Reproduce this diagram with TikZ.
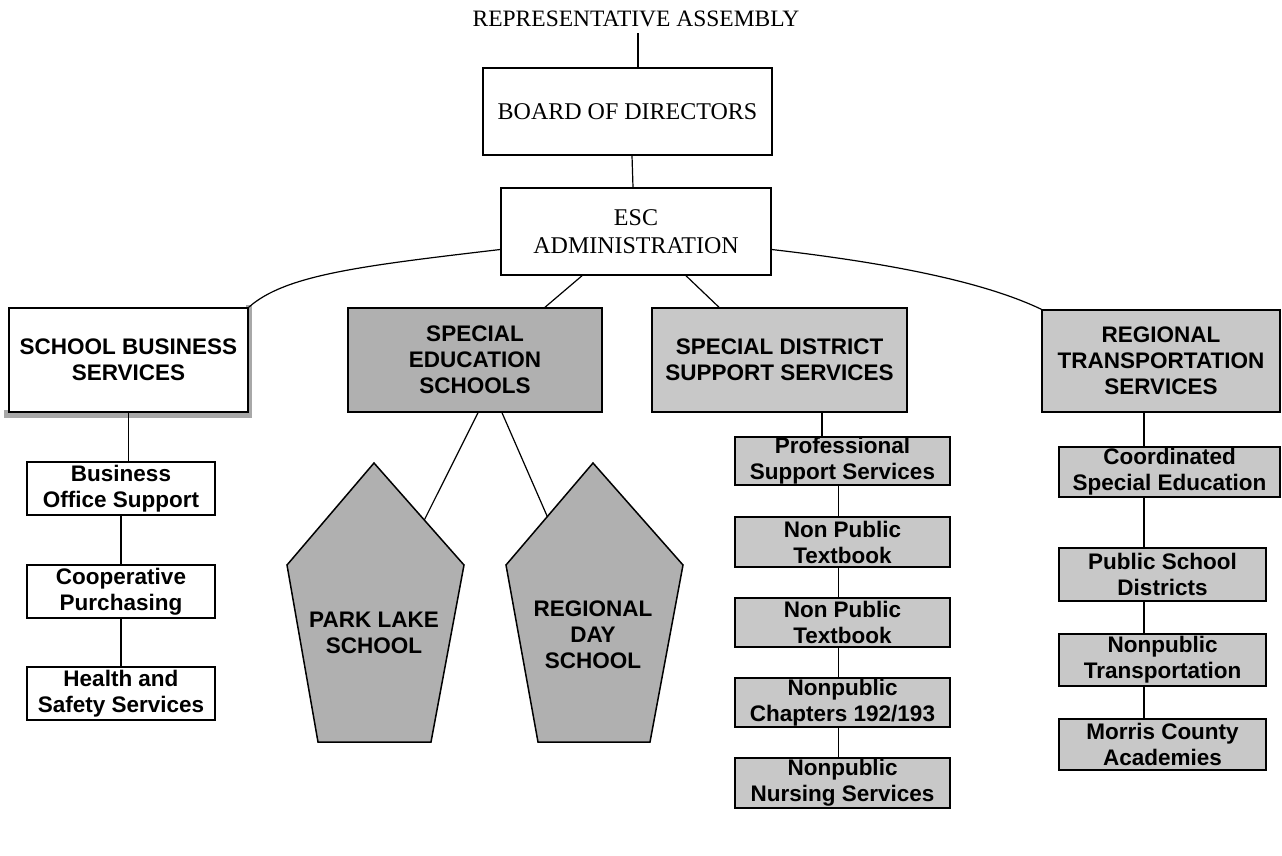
\documentclass[tikz,border=0pt]{standalone}
\usepackage{fontspec}
\setmainfont{Liberation Serif}
\newfontfamily\hsans{Liberation Sans}
\usetikzlibrary{calc}
\definecolor{boxgray}{HTML}{C8C8C8}
\definecolor{schoolgray}{HTML}{B0B0B0}
\definecolor{shadowgray}{HTML}{A8A8A8}
\tikzset{
  serifbox/.style={draw, line width=1.5pt, fill=white, inner sep=0pt, align=center,
    font=\fontsize{24}{28}\selectfont},
  sansbox/.style={draw, line width=1.5pt, inner sep=0pt, align=center,
    font=\hsans\bfseries\fontsize{22.5}{26}\selectfont},
  whitebox/.style={sansbox, fill=white},
  lightbox/.style={sansbox, fill=boxgray},
  darkbox/.style={sansbox, fill=schoolgray},
  schoolshape/.style={draw, line width=1.5pt, fill=schoolgray, line join=miter},
  schooltext/.style={inner sep=0pt, align=center, font=\hsans\bfseries\fontsize{22.5}{26}\selectfont},
  conn/.style={line width=1.2pt},
}
\begin{document}
\begin{tikzpicture}[x=1pt,y=-1pt]
\useasboundingbox (0,0) rectangle (1282,855);

% top
\node[inner sep=0pt, font=\fontsize{23.5}{28}\selectfont] (ra) at (636,19) {REPRESENTATIVE ASSEMBLY};
\node[serifbox, minimum width=289pt, minimum height=87pt] (board) at (627.5,111.5) {BOARD OF DIRECTORS};
\node[serifbox, minimum width=270pt, minimum height=87pt] (esc) at (636,231.5) {ESC\\ADMINISTRATION};

% level 2
\fill[shadowgray] (4,410) rectangle (252,418);
\fill[shadowgray] (246,305) rectangle (252,418);
\node[whitebox, minimum width=239pt, minimum height=104pt] (sbs) at (128.5,360) {SCHOOL BUSINESS\\SERVICES};
\node[darkbox, minimum width=254pt, minimum height=104pt] (ses) at (475,360) {SPECIAL\\EDUCATION\\SCHOOLS};
\node[lightbox, minimum width=255pt, minimum height=104pt] (sds) at (779.5,360) {SPECIAL DISTRICT\\SUPPORT SERVICES};
\node[lightbox, minimum width=238pt, minimum height=102pt] (rts) at (1161,361) {REGIONAL\\TRANSPORTATION\\SERVICES};

% left column
\node[whitebox, minimum width=188pt, minimum height=53pt] (bos) at (121,488.5) {Business\\Office Support};
\node[whitebox, minimum width=188pt, minimum height=53pt] (cp) at (121,591.5) {Cooperative\\Purchasing};
\node[whitebox, minimum width=188pt, minimum height=53pt] (hss) at (121,693.5) {Health and\\Safety Services};

% schools
\draw[schoolshape] (374,463) -- (464,565) -- (431,742) -- (318,742) -- (287,565) -- cycle;
\draw[schoolshape] (593,463) -- (683,565) -- (650,742) -- (538,742) -- (506,565) -- cycle;
\node[schooltext] (plk) at (374,633) {PARK LAKE\\SCHOOL};
\node[schooltext] (rds) at (593,635) {REGIONAL\\DAY\\SCHOOL};
\coordinate (plkhook) at (424.3,520);
\coordinate (rdshook) at (547.5,517);

% middle column
\node[lightbox, minimum width=215pt, minimum height=48pt] (pss) at (842.5,461) {Professional\\Support Services};
\node[lightbox, minimum width=215pt, minimum height=50pt] (npt1) at (842.5,542) {Non Public\\Textbook};
\node[lightbox, minimum width=215pt, minimum height=49pt] (npt2) at (842.5,622.5) {Non Public\\Textbook};
\node[lightbox, minimum width=215pt, minimum height=49pt] (npc) at (842.5,702.5) {Nonpublic\\Chapters 192/193};
\node[lightbox, minimum width=215pt, minimum height=50pt] (nns) at (842.5,783) {Nonpublic\\Nursing Services};

% right column
\node[lightbox, minimum width=221pt, minimum height=50pt] (cse) at (1169.5,472) {Coordinated\\Special Education};
\node[lightbox, minimum width=207pt, minimum height=53pt] (psd) at (1162.5,574.5) {Public School\\Districts};
\node[lightbox, minimum width=207pt, minimum height=52pt] (nt) at (1162.5,660) {Nonpublic\\Transportation};
\node[lightbox, minimum width=207pt, minimum height=51pt] (mca) at (1162.5,744.5) {Morris County\\Academies};

% connectors top
\draw[conn] ($(ra.south)+(2,6)$) -- ($(board.north)+(10.5,0)$);
\draw[conn] ($(board.south)+(4.5,0)$) -- ($(esc.north)+(-3,0)$);
\draw[conn] ($(esc.west)+(0,18)$) .. controls (360,266) and (285,275) .. (sbs.north east);
\draw[conn] ($(esc.east)+(0,18)$) .. controls (880,262) and (980,280) .. (rts.north west);
\draw[conn] ($(esc.south)+(-54,0)$) -- ($(ses.north)+(70,0)$);
\draw[conn] ($(esc.south)+(50,0)$) -- ($(sds.north)+(-60.5,0)$);

% schools connectors
\draw[conn] ($(ses.south)+(3,0)$) -- (plkhook);
\draw[conn] ($(ses.south)+(27,0)$) -- (rdshook);

% left column connectors
\draw[conn] (sbs.south) -- (sbs.south |- bos.north);
\draw[conn] (bos.south) -- (cp.north);
\draw[conn] (cp.south) -- (hss.north);

% middle column connectors
\draw[conn] (sds.south -| 822,0) -- (pss.north -| 822,0);
\draw[conn] ($(pss.south)+(-4,0)$) -- ($(npt1.north)+(-4,0)$);
\draw[conn] ($(npt1.south)+(-4,0)$) -- ($(npt2.north)+(-4,0)$);
\draw[conn] ($(npt2.south)+(-4,0)$) -- ($(npc.north)+(-4,0)$);
\draw[conn] ($(npc.south)+(-4,0)$) -- ($(nns.north)+(-4,0)$);

% right column connectors
\draw[conn] (rts.south -| 1144,0) -- (cse.north -| 1144,0);
\draw[conn] (cse.south -| 1144,0) -- (psd.north -| 1144,0);
\draw[conn] (psd.south -| 1144,0) -- (nt.north -| 1144,0);
\draw[conn] (nt.south -| 1144,0) -- (mca.north -| 1144,0);
\end{tikzpicture}
\end{document}
